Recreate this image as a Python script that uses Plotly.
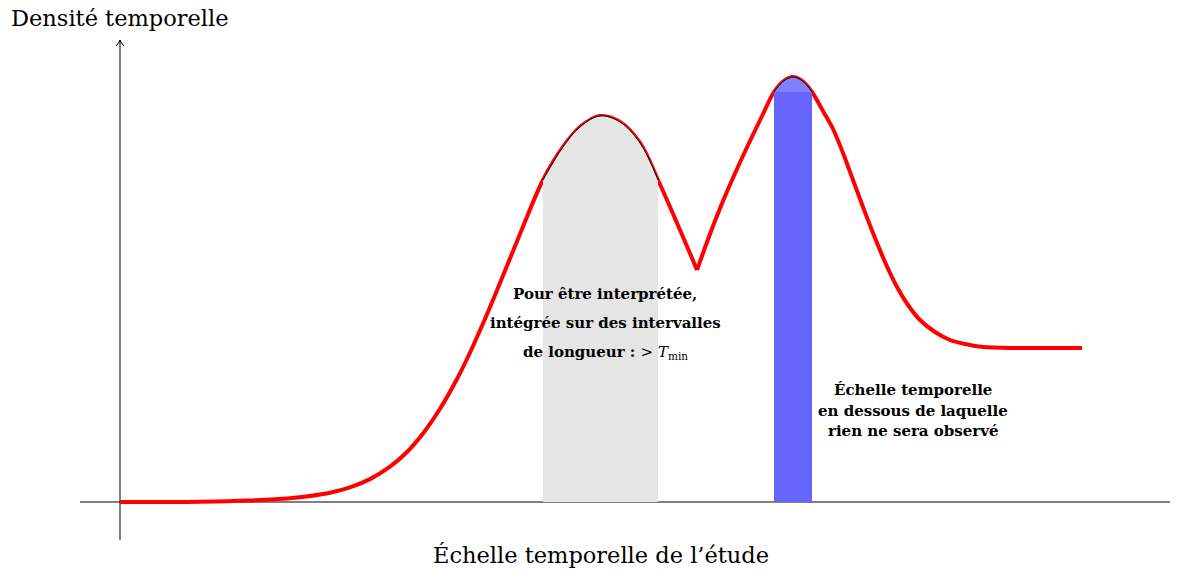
import plotly.graph_objects as go

# ---- data (curve) ----
curve_x = [0.0, 0.8, 1.3, 1.7, 1.9, 2.1, 2.3, 2.5, 2.7, 2.87, 3.03, 3.2, 3.37, 3.47, 3.63, 3.8,
           4.0, 4.23, 4.43, 4.6, 4.8, 5.0, 5.2, 5.38, 5.57, 5.77]
curve_y = [0.0, 0.003, 0.015, 0.037, 0.06, 0.093, 0.147, 0.229, 0.353, 0.50, 0.685, 0.932, 1.23,
           1.43, 1.785, 2.19, 2.68, 3.22, 3.55, 3.75, 3.86, 3.80, 3.59, 3.22, 2.79, 2.32]
curve2_x = [5.77, 5.9, 6.03, 6.17, 6.3, 6.43, 6.54, 6.63, 6.73, 6.83, 6.92, 7.03, 7.13, 7.23, 7.33,
            7.43, 7.53, 7.65, 7.77, 7.88, 8.0, 8.15, 8.3, 8.45, 8.63, 9.0, 9.62]
curve2_y = [2.32, 2.68, 3.01, 3.33, 3.61, 3.88, 4.10, 4.205, 4.25, 4.205, 4.10, 3.91, 3.73, 3.49, 3.22,
            2.95, 2.69, 2.40, 2.15, 1.97, 1.82, 1.70, 1.62, 1.58, 1.55, 1.54, 1.54]

grey_start, grey_end = 4.23, 5.38
blue_start, blue_end = 6.54, 6.92
blue_top = 4.10

x_label = "Échelle temporelle de l’étude"
y_label = "Densité temporelle"
grey_text = ["Pour être interprétée,", "intégrée sur des intervalles",
             "de longueur : <span style='font-weight:normal'>&gt; <i>T</i><sub>min</sub></span>"]
blue_text = ["Échelle temporelle", "en dessous de laquelle", "rien ne sera observé"]

W, H = 1178, 575
OFF = 8  # page body margin


def px(x):
    return (x - 120) / 100.0


def py(y):
    return (502 - y) / 100.0


fig = go.Figure()

spl = dict(shape="spline", smoothing=1.0, simplify=False)

# red curve
fig.add_trace(go.Scatter(x=curve_x, y=curve_y, mode="lines",
                         line=dict(color="#ff0000", width=4, **spl), hoverinfo="skip"))
fig.add_trace(go.Scatter(x=curve2_x, y=curve2_y, mode="lines",
                         line=dict(color="#ff0000", width=4, **spl), hoverinfo="skip"))

# grey region
gx = [x for x in curve_x if grey_start <= x <= grey_end]
gy = [y for x, y in zip(curve_x, curve_y) if grey_start <= x <= grey_end]
fig.add_trace(go.Scatter(x=gx, y=gy, mode="lines", fill="tozeroy", fillcolor="#e5e5e5",
                         line=dict(color="#000000", width=1, **spl), hoverinfo="skip"))

# blue region: light cap then solid rectangle
bx = [x for x in curve2_x if blue_start <= x <= blue_end]
by = [y for x, y in zip(curve2_x, curve2_y) if blue_start <= x <= blue_end]
fig.add_trace(go.Scatter(x=bx, y=by, mode="lines", fill="tozeroy", fillcolor="#8080ff",
                         line=dict(color="rgba(0,0,0,0)", width=0, **spl), hoverinfo="skip"))
fig.add_trace(go.Scatter(x=[blue_start, blue_end, blue_end, blue_start, blue_start],
                         y=[0, 0, blue_top, blue_top, 0], mode="lines", fill="toself",
                         fillcolor="#6666ff", line=dict(width=0, color="rgba(0,0,0,0)"),
                         hoverinfo="skip"))
fig.add_trace(go.Scatter(x=bx, y=by, mode="lines",
                         line=dict(color="#000000", width=1, **spl), hoverinfo="skip"))

# axes (drawn below traces)
shapes = [
    dict(type="line", x0=px(80), x1=px(1176), y0=py(502), y1=py(502),
         line=dict(color="#000000", width=1), layer="below"),
    dict(type="line", x0=px(120), x1=px(120), y0=py(540), y1=py(40),
         line=dict(color="#000000", width=1), layer="below"),
    dict(type="path",
         path=f"M {px(116)} {py(46)} Q {px(119)} {py(43)} {px(120)} {py(40)} Q {px(121)} {py(43)} {px(124)} {py(46)}",
         line=dict(color="#000000", width=1), layer="below"),
    dict(type="path",
         path=f"M {px(1170)} {py(498)} Q {px(1173)} {py(501)} {px(1176)} {py(502)} Q {px(1173)} {py(503)} {px(1170)} {py(506)}",
         line=dict(color="#000000", width=1), layer="below"),
]

serif = "DejaVu Serif"
annotations = [
    dict(x=px(120), y=py(18), text=y_label, showarrow=False, xanchor="center", yanchor="middle",
         font=dict(family=serif, size=22.5, color="#000000")),
    dict(x=px(601), y=py(555), text=x_label, showarrow=False, xanchor="center", yanchor="middle",
         font=dict(family=serif, size=22.5, color="#000000")),
]
for i, t in enumerate(grey_text):
    annotations.append(dict(x=px(605), y=py(294 + 29 * i), text=t, showarrow=False,
                            xanchor="center", yanchor="middle",
                            font=dict(family=serif, size=15, color="#000000", weight="bold")))
for i, t in enumerate(blue_text):
    annotations.append(dict(x=px(913), y=py(390 + 20.5 * i), text=t, showarrow=False,
                            xanchor="center", yanchor="middle",
                            font=dict(family=serif, size=15, color="#000000", weight="bold")))

fig.update_layout(
    width=W - OFF, height=H - OFF, autosize=False,
    margin=dict(l=0, r=0, t=0, b=0),
    plot_bgcolor="#ffffff", paper_bgcolor="#ffffff",
    showlegend=False,
    xaxis=dict(range=[px(OFF), px(W)], visible=False, fixedrange=True),
    yaxis=dict(range=[py(H), py(OFF)], visible=False, fixedrange=True),
    shapes=shapes, annotations=annotations,
)

fig.write_html("out.html")
